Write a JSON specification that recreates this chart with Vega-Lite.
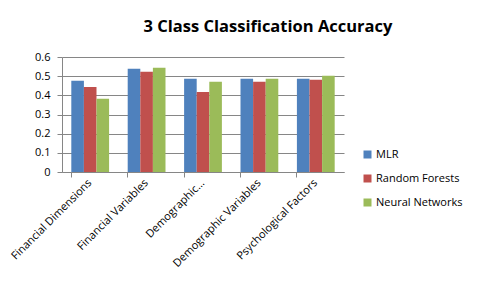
{
  "$schema": "https://vega.github.io/schema/vega-lite/v6.json",
  "width": 282,
  "height": 115,
  "autosize": "none",
  "padding": {"left": 62, "top": 57, "right": 139, "bottom": 119},
  "background": "white",
  "title": {
    "text": "3 Class Classification Accuracy",
    "font": "Open Sans",
    "fontSize": 16.5,
    "fontWeight": "bold",
    "color": "#000000",
    "anchor": "middle",
    "frame": "group",
    "dx": 65,
    "offset": 16
  },
  "data": {
    "values": [
      {"category": "Financial Dimensions", "model": "MLR", "accuracy": 0.476},
      {"category": "Financial Dimensions", "model": "Random Forests", "accuracy": 0.444},
      {"category": "Financial Dimensions", "model": "Neural Networks", "accuracy": 0.382},
      {"category": "Financial Variables", "model": "MLR", "accuracy": 0.539},
      {"category": "Financial Variables", "model": "Random Forests", "accuracy": 0.523},
      {"category": "Financial Variables", "model": "Neural Networks", "accuracy": 0.544},
      {"category": "Demographic...", "model": "MLR", "accuracy": 0.486},
      {"category": "Demographic...", "model": "Random Forests", "accuracy": 0.418},
      {"category": "Demographic...", "model": "Neural Networks", "accuracy": 0.471},
      {"category": "Demographic Variables", "model": "MLR", "accuracy": 0.486},
      {"category": "Demographic Variables", "model": "Random Forests", "accuracy": 0.471},
      {"category": "Demographic Variables", "model": "Neural Networks", "accuracy": 0.486},
      {"category": "Psychological Factors", "model": "MLR", "accuracy": 0.486},
      {"category": "Psychological Factors", "model": "Random Forests", "accuracy": 0.481},
      {"category": "Psychological Factors", "model": "Neural Networks", "accuracy": 0.502}
    ]
  },
  "mark": {"type": "bar"},
  "encoding": {
    "x": {
      "field": "category",
      "type": "nominal",
      "sort": null,
      "scale": {"paddingInner": 0.33, "paddingOuter": 0.165},
      "axis": {
        "title": null,
        "labelAngle": -45,
        "labelAlign": "right",
        "labelBaseline": "middle",
        "labelFont": "Open Sans",
        "labelFontSize": 11,
        "labelColor": "#000000",
        "labelPadding": 4,
        "bandPosition": 0,
        "tickSize": 5,
        "tickColor": "#868686",
        "domainColor": "#868686",
        "grid": false
      }
    },
    "xOffset": {"field": "model", "type": "nominal", "sort": ["MLR", "Random Forests", "Neural Networks"]},
    "y": {
      "field": "accuracy",
      "type": "quantitative",
      "scale": {"domain": [0, 0.6]},
      "axis": {
        "title": null,
        "values": [0, 0.1, 0.2, 0.3, 0.4, 0.5, 0.6],
        "format": "~g",
        "labelFont": "Open Sans",
        "labelFontSize": 11,
        "labelColor": "#000000",
        "labelPadding": 7,
        "tickSize": 5,
        "tickColor": "#868686",
        "domainColor": "#868686",
        "gridColor": "#868686",
        "grid": true
      }
    },
    "color": {
      "field": "model",
      "type": "nominal",
      "sort": ["MLR", "Random Forests", "Neural Networks"],
      "scale": {"domain": ["MLR", "Random Forests", "Neural Networks"], "range": ["#4F81BD", "#C0504D", "#9BBB59"]},
      "legend": {
        "title": null,
        "orient": "none",
        "legendX": 300,
        "legendY": 92,
        "symbolType": "square",
        "symbolSize": 64,
        "symbolStrokeWidth": 0,
        "rowPadding": 12,
        "labelFont": "Open Sans",
        "labelFontSize": 11,
        "labelColor": "#000000",
        "labelOffset": 3
      }
    }
  },
  "config": {
    "view": {"stroke": null},
    "axis": {"domainWidth": 1, "gridWidth": 1}
  }
}
